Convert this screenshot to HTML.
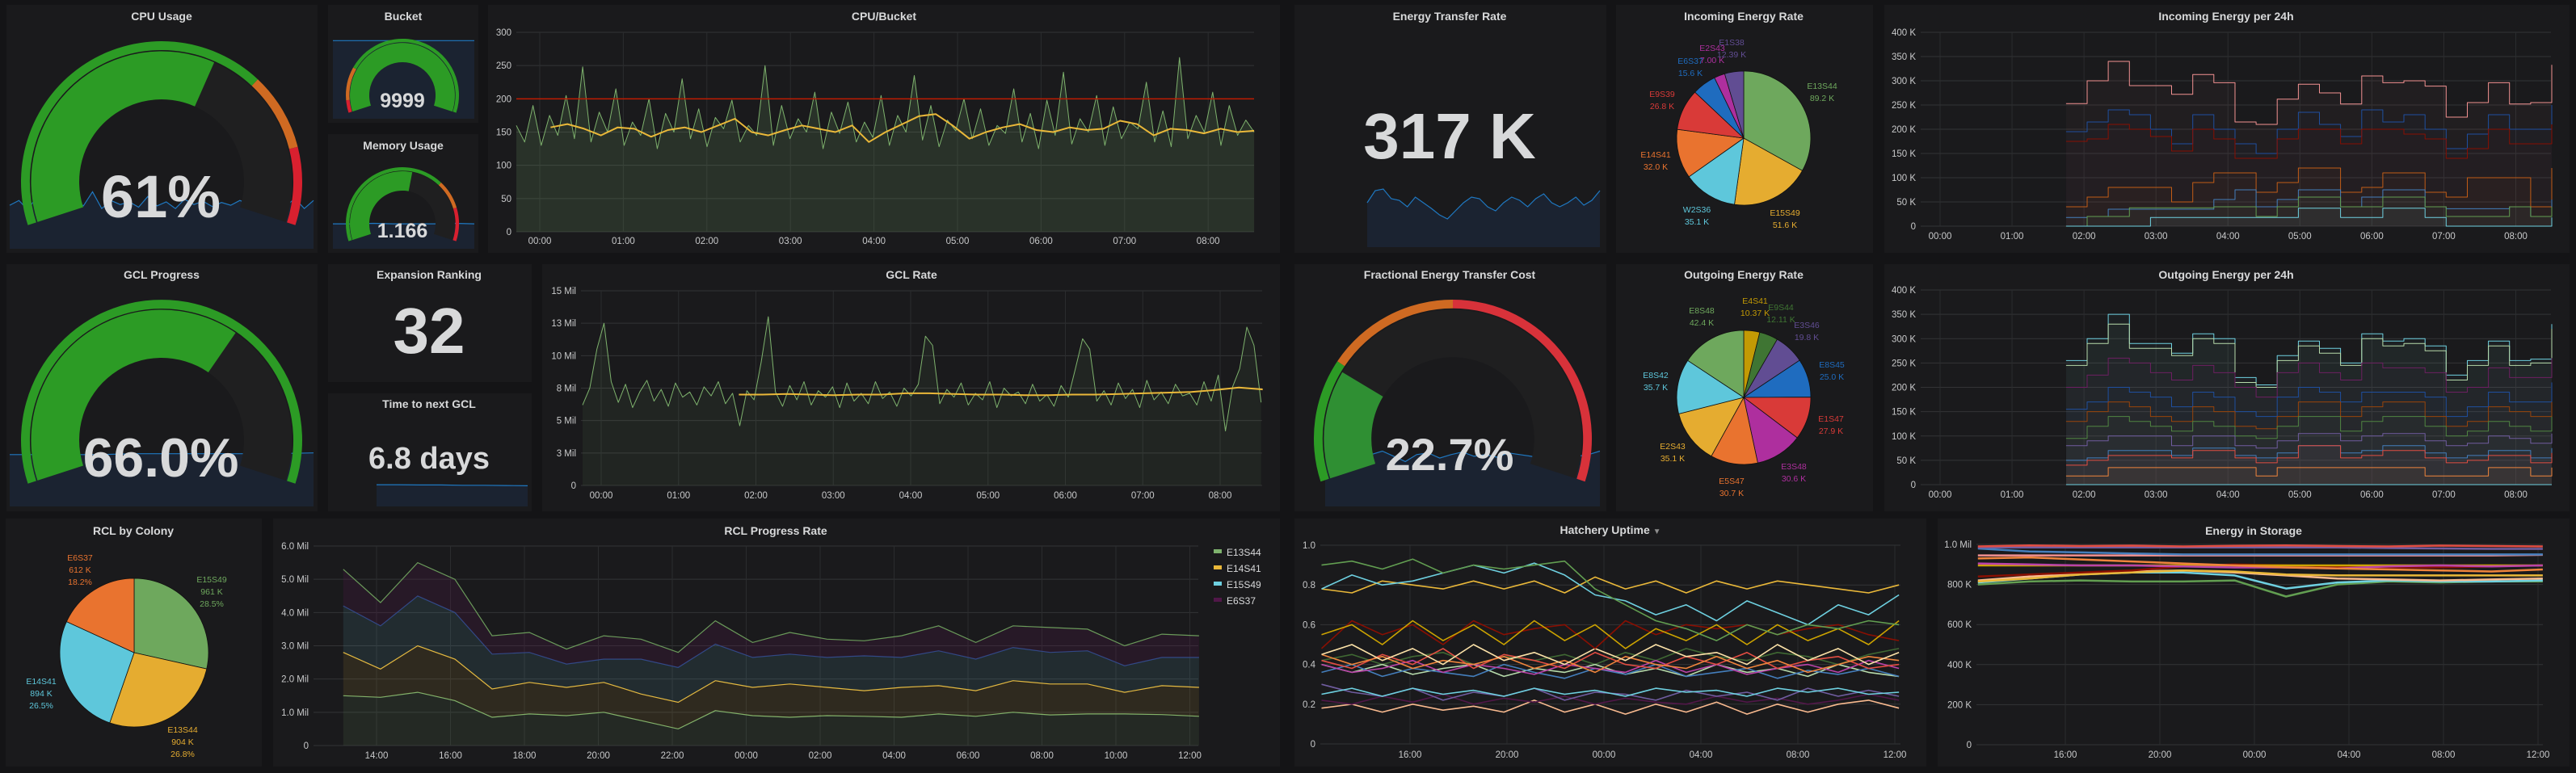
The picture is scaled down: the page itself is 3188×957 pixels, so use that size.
<!DOCTYPE html>
<html><head><meta charset="utf-8"><title>Screeps Dashboard</title>
<style>
html,body{margin:0;padding:0;background:#141416;width:3188px;height:957px;overflow:hidden}
svg{display:block;font-family:"Liberation Sans",sans-serif}
.pt{fill:#d8d9da;font-size:14px;font-weight:bold;text-anchor:middle}
.big{fill:#d8d9da;font-weight:bold;text-anchor:middle}
</style></head>
<body>
<svg id="dash" xmlns="http://www.w3.org/2000/svg" width="3188" height="957" viewBox="0 0 3188 957">
<rect x="0" y="0" width="3188" height="957" fill="#141416"/>
<g fill="#1a1a1c">
<rect x="8" y="6" width="385" height="307"/>
<rect x="406" y="6" width="186" height="146"/>
<rect x="406" y="166" width="186" height="147"/>
<rect x="604" y="6" width="980" height="307"/>
<rect x="1602" y="6" width="386" height="307"/>
<rect x="2000" y="6" width="318" height="307"/>
<rect x="2332" y="6" width="848" height="307"/>
<rect x="8" y="327" width="385" height="306"/>
<rect x="406" y="327" width="252" height="146"/>
<rect x="406" y="487" width="252" height="146"/>
<rect x="671" y="327" width="913" height="306"/>
<rect x="1602" y="327" width="386" height="306"/>
<rect x="2000" y="327" width="318" height="306"/>
<rect x="2332" y="327" width="848" height="306"/>
<rect x="7" y="642" width="317" height="307"/>
<rect x="338" y="642" width="1246" height="307"/>
<rect x="1602" y="642" width="782" height="307"/>
<rect x="2398" y="642" width="782" height="307"/>
</g>
<g id="charts"></g>
<g>
<text class="pt" x="200" y="25">CPU Usage</text>
<text class="pt" x="499" y="25">Bucket</text>
<text class="pt" x="499" y="185">Memory Usage</text>
<text class="pt" x="1094" y="25">CPU/Bucket</text>
<text class="pt" x="1794" y="25">Energy Transfer Rate</text>
<text class="pt" x="2158" y="25">Incoming Energy Rate</text>
<text class="pt" x="2755" y="25">Incoming Energy per 24h</text>
<text class="pt" x="200" y="345">GCL Progress</text>
<text class="pt" x="531" y="345">Expansion Ranking</text>
<text class="pt" x="531" y="505">Time to next GCL</text>
<text class="pt" x="1128" y="345">GCL Rate</text>
<text class="pt" x="1794" y="345">Fractional Energy Transfer Cost</text>
<text class="pt" x="2158" y="345">Outgoing Energy Rate</text>
<text class="pt" x="2755" y="345">Outgoing Energy per 24h</text>
<text class="pt" x="165" y="662">RCL by Colony</text>
<text class="pt" x="960" y="662">RCL Progress Rate</text>
<text class="pt" x="1993" y="661">Hatchery Uptime <tspan fill="#8e8e8e" font-size="10">▼</tspan></text>
<text class="pt" x="2789" y="662">Energy in Storage</text>
</g>
<g>
<text class="big" x="199" y="269" font-size="74">61%</text>
<text class="big" x="498" y="133" font-size="25">9999</text>
<text class="big" x="498" y="294" font-size="25">1.166</text>
<text class="big" x="199" y="590" font-size="68">66.0%</text>
<text class="big" x="531" y="437" font-size="80">32</text>
<text class="big" x="531" y="580" font-size="38">6.8 days</text>
<text class="big" x="1794" y="196" font-size="80">317 K</text>
<text class="big" x="1794" y="582" font-size="56">22.7%</text>
</g>
</svg>
<script>
// ---------- DATA ----------
const cpuRaw = [160,135,190,130,175,145,205,140,248,135,180,150,215,130,165,145,200,125,178,150,230,140,185,128,172,155,198,135,160,145,250,130,190,140,170,150,210,125,180,148,195,135,165,142,205,130,175,150,235,138,190,128,168,152,200,140,185,130,160,148,215,135,178,125,198,145,240,132,170,150,205,130,188,140,165,155,225,135,182,128,262,140,175,150,210,130,190,145,168,150];
const cpuAvg = [157,162,155,145,157,155,143,153,157,150,160,170,150,145,153,160,155,150,160,135,150,162,174,177,160,140,150,157,162,153,150,157,153,155,167,162,145,155,153,148,155,150,152];
const cpuLimit = [200];
const cpuYTicks = [0,50,100,150,200,250,300];
const cpuYLabels = ['0','50','100','150','200','250','300'];
const hourTicks = [0,1,2,3,4,5,6,7,8];
const hourLabels = ['00:00','01:00','02:00','03:00','04:00','05:00','06:00','07:00','08:00'];

const gclRaw = [6.2,7.5,10.5,12.5,8.0,6.4,7.8,6.0,7.2,8.1,6.5,7.4,6.1,7.9,6.8,7.2,6.2,7.6,6.9,8.0,6.3,7.1,4.6,7.3,6.6,9.5,13.0,7.2,6.1,7.7,6.6,8.0,6.2,7.3,6.8,7.6,6.0,7.9,6.5,7.1,6.3,8.0,6.7,7.2,6.1,7.5,6.9,7.8,11.5,10.8,6.3,7.4,6.8,7.9,6.2,7.1,6.6,8.0,6.0,7.5,6.9,7.2,6.3,7.8,6.5,7.0,6.1,7.7,6.8,9.0,11.3,10.5,6.5,7.3,6.2,7.9,6.7,7.4,6.0,8.1,6.6,7.2,6.3,7.8,6.9,7.1,6.2,8.0,6.5,8.5,4.2,7.6,9.0,12.2,10.8,6.4];
const gclAvg = [7.0,7.0,7.05,7.0,6.95,7.0,7.0,7.1,7.1,7.05,7.0,7.0,6.95,6.95,7.0,7.0,7.05,7.1,7.15,7.2,7.35,7.55,7.4];
const gclYTicks = [0,2.5,5,7.5,10,12.5,15];
const gclYLabels = ['0','3 Mil','5 Mil','8 Mil','10 Mil','13 Mil','15 Mil'];

const energyYTicks = [0,50,100,150,200,250,300,350,400];
const energyYLabels = ['0','50 K','100 K','150 K','200 K','250 K','300 K','350 K','400 K'];
const inPink = [253,300,340,290,290,272,313,296,215,210,262,293,275,252,310,296,300,289,225,255,296,252,255,333];
const inBlue = [195,215,240,230,200,170,230,200,170,150,200,235,210,185,240,215,230,200,160,190,230,200,200,250];
const inDarkRed = [175,180,210,200,185,155,200,180,140,140,180,200,200,170,200,200,190,180,140,160,200,170,170,210];
const inOrange = [40,60,80,80,80,50,90,110,110,70,90,120,120,70,80,110,110,70,60,100,100,100,40,120];
const inBlueLow = [18,20,35,35,35,35,35,55,75,40,55,75,75,40,60,75,75,40,36,36,36,40,20,55];
const inGreen = [0,20,20,38,38,38,38,40,40,20,40,60,60,40,40,60,60,40,20,20,20,40,20,40];
const inCyan = [0,0,0,0,18,18,18,18,18,18,18,37,37,18,18,37,37,18,0,0,0,0,0,18];

const outCyan = [255,300,350,290,290,270,310,300,220,205,265,295,280,250,310,295,300,285,225,255,295,255,258,330];
const outPale = [245,290,330,280,280,265,300,290,210,200,255,285,270,245,300,285,290,275,215,245,285,245,250,320];
const outPurple = [200,225,260,250,230,215,245,230,200,180,230,250,230,215,250,240,240,230,190,200,240,220,220,260];
const outDarkBlue = [155,170,200,190,180,160,190,180,150,140,180,200,190,170,190,190,190,180,140,160,190,170,170,210];
const outBrown = [130,150,170,160,140,130,160,150,120,115,140,170,170,140,160,170,170,140,120,130,160,150,140,170];
const outGreen = [95,120,140,130,120,110,130,120,100,95,120,140,140,110,130,140,140,120,100,110,130,120,110,140];
const outPurple2 = [80,90,100,100,100,80,100,100,80,75,90,105,105,90,100,105,105,90,80,85,100,95,85,105];
const outBlue2 = [50,55,70,70,70,60,75,75,60,55,65,80,80,65,70,80,80,65,55,60,70,70,55,75];
const outRed = [40,50,60,60,60,55,70,70,55,45,55,80,80,55,60,70,70,55,45,50,60,60,45,65];
const outOrange = [18,18,35,35,35,35,35,35,35,18,35,35,35,35,35,35,35,18,18,18,35,35,18,35];
const outZero = [0,0,0,0,0,0,0,0,0,0,0,0,0,0,0,0,0,0,0,0,0,0,0,0];

const inPieNames = ['E13S44','E15S49','W2S36','E14S41','E9S39','E6S37','E2S43','E1S38'];
const inPieValues = [89.2,51.6,35.1,32.0,26.8,15.6,7.00,12.39];
const inPieLabels = ['89.2 K','51.6 K','35.1 K','32.0 K','26.8 K','15.6 K','7.00 K','12.39 K'];
const outPieNames = ['E4S41','E9S44','E3S46','E8S45','E1S47','E3S48','E5S47','E2S43','E8S42','E8S48'];
const outPieValues = [10.37,12.11,19.8,25.0,27.9,30.6,30.7,35.1,35.7,42.4];
const outPieLabels = ['10.37 K','12.11 K','19.8 K','25.0 K','27.9 K','30.6 K','30.7 K','35.1 K','35.7 K','42.4 K'];
const rclPieNames = ['E15S49','E13S44','E14S41','E6S37'];
const rclPieValues = [961,904,894,612];
const rclPieLabels = ['961 K','904 K','894 K','612 K'];
const rclPiePct = ['28.5%','26.8%','26.5%','18.2%'];

const rclE13S44 = [1.5,1.45,1.6,1.35,0.85,0.95,0.9,1.0,0.75,0.5,1.05,0.9,0.85,0.9,0.88,0.85,0.95,0.88,1.0,0.92,0.95,0.95,0.93,0.88];
const rclE14S41 = [1.3,0.85,1.4,1.25,0.85,0.95,0.85,0.9,0.8,0.8,0.9,0.85,1.0,0.85,0.77,0.9,0.85,0.77,0.95,0.93,0.9,0.65,0.87,0.87];
const rclE15S49 = [1.4,1.3,1.5,1.4,1.05,0.9,0.7,0.7,1.05,1.05,1.1,0.9,0.9,0.9,1.05,0.9,1.05,0.95,1.0,0.95,1.0,0.8,0.85,0.9];
const rclE6S37 = [1.1,0.7,1.0,1.0,0.55,0.6,0.45,0.7,0.6,0.45,0.7,0.45,0.65,0.55,0.45,0.65,0.75,0.5,0.65,0.75,0.65,0.6,0.7,0.65];
const rclYTicks = [0,1,2,3,4,5,6];
const rclYLabels = ['0','1.0 Mil','2.0 Mil','3.0 Mil','4.0 Mil','5.0 Mil','6.0 Mil'];
const rclXTicks = [14,16,18,20,22,24,26,28,30,32,34,36];
const rclXLabels = ['14:00','16:00','18:00','20:00','22:00','00:00','02:00','04:00','06:00','08:00','10:00','12:00'];

const hatchGreen = [0.9,0.92,0.88,0.93,0.86,0.9,0.88,0.9,0.92,0.78,0.7,0.62,0.58,0.52,0.6,0.55,0.6,0.58,0.62,0.6];
const hatchCyan = [0.78,0.85,0.8,0.82,0.86,0.9,0.86,0.91,0.85,0.75,0.72,0.65,0.7,0.62,0.72,0.66,0.6,0.7,0.65,0.75];
const hatchYellow = [0.78,0.76,0.82,0.8,0.78,0.82,0.78,0.82,0.76,0.84,0.78,0.82,0.76,0.82,0.78,0.82,0.8,0.78,0.76,0.8];
const hatchGold = [0.55,0.6,0.5,0.62,0.52,0.6,0.5,0.62,0.52,0.6,0.48,0.58,0.52,0.6,0.5,0.6,0.52,0.58,0.5,0.62];
const hatchDarkRed = [0.48,0.62,0.55,0.6,0.5,0.62,0.55,0.58,0.6,0.48,0.62,0.55,0.6,0.58,0.6,0.55,0.58,0.6,0.55,0.52];
const hatchPale = [0.45,0.5,0.42,0.48,0.4,0.5,0.42,0.46,0.4,0.48,0.42,0.5,0.44,0.46,0.4,0.5,0.42,0.48,0.4,0.46];
const hatchOrange = [0.45,0.4,0.44,0.38,0.42,0.4,0.44,0.38,0.42,0.36,0.44,0.4,0.38,0.44,0.38,0.42,0.36,0.4,0.44,0.42];
const hatchRed = [0.42,0.38,0.45,0.4,0.48,0.38,0.45,0.42,0.38,0.46,0.4,0.38,0.44,0.4,0.46,0.38,0.42,0.44,0.38,0.4];
const hatchMagenta = [0.4,0.36,0.38,0.42,0.36,0.4,0.38,0.35,0.4,0.38,0.36,0.42,0.36,0.4,0.35,0.38,0.4,0.36,0.42,0.38];
const hatchBlue = [0.36,0.4,0.34,0.38,0.36,0.34,0.4,0.36,0.33,0.38,0.35,0.4,0.34,0.36,0.38,0.33,0.37,0.35,0.38,0.34];
const hatchLightGreen = [0.4,0.36,0.4,0.35,0.38,0.4,0.34,0.38,0.36,0.4,0.35,0.38,0.34,0.4,0.36,0.38,0.34,0.4,0.36,0.34];
const hatchDarkGreen = [0.42,0.45,0.4,0.44,0.46,0.4,0.44,0.42,0.45,0.4,0.46,0.42,0.48,0.44,0.42,0.46,0.44,0.4,0.45,0.48];
const hatchCyanLow = [0.25,0.28,0.24,0.28,0.25,0.27,0.24,0.28,0.25,0.27,0.24,0.28,0.26,0.27,0.24,0.28,0.26,0.28,0.25,0.26];
const hatchPurple = [0.3,0.26,0.24,0.28,0.22,0.26,0.24,0.28,0.22,0.26,0.25,0.22,0.27,0.24,0.26,0.22,0.28,0.24,0.27,0.24];
const hatchDarkPurple = [0.22,0.2,0.24,0.21,0.25,0.2,0.23,0.21,0.24,0.2,0.23,0.21,0.2,0.24,0.21,0.23,0.2,0.22,0.25,0.22];
const hatchPeach = [0.18,0.2,0.16,0.2,0.17,0.19,0.16,0.22,0.16,0.2,0.15,0.2,0.16,0.21,0.15,0.2,0.16,0.2,0.22,0.18];
const hatchYTicks = [0,0.2,0.4,0.6,0.8,1.0];
const hatchYLabels = ['0','0.2','0.4','0.6','0.8','1.0'];
const longXTicks = [16,20,24,28,32,36];
const longXLabels = ['16:00','20:00','00:00','04:00','08:00','12:00'];

const storRed = [990,995,992,994,990,993,995,992,990,994,992,990];
const storPurple = [985,985,985,985,985,985,985,985,982,980,978,978];
const storBlue = [980,965,960,955,950,950,950,950,950,950,950,950];
const storPink = [945,945,945,945,945,945,945,945,945,945,945,948];
const storOrange = [930,935,925,915,905,895,885,880,875,870,865,875];
const storMagenta = [905,900,895,895,890,885,885,880,890,895,890,895];
const storGold = [895,895,895,895,895,895,895,895,895,895,895,895];
const storDarkRed = [840,850,860,870,890,900,895,890,885,885,890,895];
const storYellow = [815,830,850,860,870,865,850,845,845,845,845,845];
const storPeach = [820,840,855,865,870,860,845,830,825,820,825,830];
const storCyan = [810,830,850,860,860,845,780,810,820,815,815,820];
const storGreen = [800,815,820,815,815,820,740,800,815,810,815,815];
const storYTicks = [0,200,400,600,800,1000];
const storYLabels = ['0','200 K','400 K','600 K','800 K','1.0 Mil'];

const cpuSpark = [65,72,58,80,62,70,60,75,64,85,60,72,66,70,62,78,64,70,60,74,66,71,63,69,65,72,67,88,66,70,64,75,60,72];
const bucketSpark = [99,99,99,99,99,99,99,99];
const memSpark = [50,50,51,50,50,50,51,50];
const gclSpark = [60,60,60,61,61,61,61,62];
const timeSpark = [80,80,79,79,78,78,77,76];
const rateSpark = [55,70,72,60,58,50,62,55,48,40,35,45,55,62,60,50,45,55,62,58,50,60,66,55,50,55,62,52,58,70];
const fracSpark = [60,58,62,55,60,64,58,52,60,62,56,60,63,58,60,57,62,60,58,55,60,62,58,60,64];

const cpuGaugeValue = [61];
const bucketGaugeValue = [99.99];
const memGaugeValue = [55];
const gclGaugeValue = [66];
const fracGaugeValue = [22.7];

// ---------- HELPERS ----------
const NS = 'http://www.w3.org/2000/svg';
const root = document.getElementById('charts');
function mk(tag, attrs, parent, name) {
  const e = document.createElementNS(NS, tag);
  for (const k in attrs) e.setAttribute(k, attrs[k]);
  
  
  parent.appendChild(e);
  return e;
}
function group(name) { return mk('g', {}, root, name); }

function makeAxes(g, o) {
  const ax = Object.assign({}, o);
  ax.sx = t => o.px0 + (t - o.t0) * o.ppt;
  ax.sy = v => o.yb - (v - o.vmin) / (o.vmax - o.vmin) * (o.yb - o.yt);
  o.yTicks.forEach((v, i) => {
    const y = ax.sy(v);
    mk('line', {x1: o.gx0, x2: o.gx1, y1: y, y2: y, stroke: '#333436', 'stroke-width': 1}, g, 'y-gridline');
    const t = mk('text', {x: o.gx0 - 6, y: y + 4, fill: '#c8c9ca', 'font-size': 11.5, 'text-anchor': 'end'}, g, 'y-tick-label');
    t.textContent = o.yLabels[i];
  });
  o.xTicks.forEach((h, i) => {
    const x = ax.sx(h);
    mk('line', {x1: x, x2: x, y1: o.yt, y2: o.yb, stroke: '#2b2c2e', 'stroke-width': 1}, g, 'x-gridline');
    const t = mk('text', {x: x, y: o.xly, fill: '#c8c9ca', 'font-size': 11.5, 'text-anchor': 'middle'}, g, 'x-tick-label');
    t.textContent = o.xLabels[i];
  });
  return ax;
}
function pathFor(ax, t0, t1, vals, step) {
  const n = vals.length;
  let d = '';
  vals.forEach((v, i) => {
    const x = ax.sx(t0 + i * (t1 - t0) / (n - 1));
    const y = ax.sy(v);
    if (i === 0) d += 'M' + x.toFixed(1) + ',' + y.toFixed(1);
    else if (step) d += 'H' + x.toFixed(1) + 'V' + y.toFixed(1);
    else d += 'L' + x.toFixed(1) + ',' + y.toFixed(1);
  });
  return d;
}
function series(g, ax, t0, t1, vals, color, w, fillOp, step, name) {
  const d = pathFor(ax, t0, t1, vals, step);
  if (fillOp > 0) {
    const base = ax.sy(ax.vmin).toFixed(1);
    mk('path', {d: d + 'V' + base + 'H' + ax.sx(t0).toFixed(1) + 'Z', fill: color, 'fill-opacity': fillOp, stroke: 'none'}, g, name + '-fill');
  }
  mk('path', {d: d, fill: 'none', stroke: color, 'stroke-width': w, 'stroke-linejoin': 'round'}, g, name + '-line');
}
function spark(g, x0, x1, yTop, yBot, vals, vmin, vmax, name) {
  const n = vals.length;
  let d = '';
  vals.forEach((v, i) => {
    const x = x0 + i * (x1 - x0) / (n - 1);
    const y = yBot - (v - vmin) / (vmax - vmin) * (yBot - yTop);
    d += (i ? 'L' : 'M') + x.toFixed(1) + ',' + y.toFixed(1);
  });
  mk('path', {d: d + 'L' + x1 + ',' + yBot + 'L' + x0 + ',' + yBot + 'Z', fill: '#1b2331', stroke: 'none'}, g, name + '-fill');
  mk('path', {d: d, fill: 'none', stroke: '#1f78c1', 'stroke-width': 1.2}, g, name + '-line');
}
function ang(f) { return (198 - 216 * f) * Math.PI / 180; }
function annulus(cx, cy, r0, r1, f0, f1) {
  const a0 = ang(f0), a1 = ang(f1);
  const large = (a0 - a1) > Math.PI ? 1 : 0;
  const p = (r, a) => (cx + r * Math.cos(a)).toFixed(1) + ',' + (cy - r * Math.sin(a)).toFixed(1);
  return 'M' + p(r1, a0) + 'A' + r1 + ',' + r1 + ' 0 ' + large + ' 1 ' + p(r1, a1) +
         'L' + p(r0, a1) + 'A' + r0 + ',' + r0 + ' 0 ' + large + ' 0 ' + p(r0, a0) + 'Z';
}
function gauge(g, cx, cy, R, value, thresholds, valueColor, name) {
  thresholds.forEach(th => {
    mk('path', {d: annulus(cx, cy, R * 0.937, R, th[0] / 100, th[1] / 100), fill: th[2]}, g, name + '-threshold-band');
  });
  mk('path', {d: annulus(cx, cy, R * 0.586, R * 0.928, 0, 1), fill: '#1f1f20'}, g, name + '-track');
  mk('path', {d: annulus(cx, cy, R * 0.586, R * 0.928, 0, Math.min(value, 99.99) / 100), fill: valueColor}, g, name + '-value-arc');
}
function pie(g, cx, cy, r, vals, colors, name) {
  const tot = vals.reduce((a, b) => a + b, 0);
  let a = -Math.PI / 2;
  vals.forEach((v, i) => {
    const da = v / tot * Math.PI * 2;
    const b = a + da;
    const large = da > Math.PI ? 1 : 0;
    const d = 'M' + cx + ',' + cy + 'L' + (cx + r * Math.cos(a)).toFixed(1) + ',' + (cy + r * Math.sin(a)).toFixed(1) +
      'A' + r + ',' + r + ' 0 ' + large + ' 1 ' + (cx + r * Math.cos(b)).toFixed(1) + ',' + (cy + r * Math.sin(b)).toFixed(1) + 'Z';
    mk('path', {d: d, fill: colors[i], stroke: '#111', 'stroke-width': 0.8}, g, name + '-slice');
    a = b;
  });
}
function pieLabels(g, lines, pos, colors, name) {
  lines.forEach((ls, i) => {
    ls.forEach((s, j) => {
      const t = mk('text', {x: pos[i][0], y: pos[i][1] + j * 15, fill: colors[i], 'font-size': 10.5, 'text-anchor': 'middle'}, g, name + '-label');
      t.textContent = s;
    });
  });
}

// ---------- GAUGES + SPARKLINES ----------
const gCpu = group('cpu-usage-gauge');
spark(gCpu, 12, 388, 225, 308, cpuSpark, 0, 100, 'cpu-sparkline');
gauge(gCpu, 200, 225, 174, cpuGaugeValue[0], [[0,70,'#2c9b25'],[70,85,'#cf6a22'],[85,100,'#d8202f']], '#2c9b25', 'cpu-gauge');

const gBucket = group('bucket-gauge');
spark(gBucket, 412, 587, 20, 147, bucketSpark, 0, 130, 'bucket-sparkline');
gauge(gBucket, 498, 118, 70, bucketGaugeValue[0], [[0,6,'#d8202f'],[6,22,'#cf6a22'],[22,100,'#2c9b25']], '#2c9b25', 'bucket-gauge');

const gMem = group('memory-usage-gauge');
spark(gMem, 412, 587, 240, 308, memSpark, 0, 110, 'memory-sparkline');
gauge(gMem, 498, 277, 70, memGaugeValue[0], [[0,70,'#2c9b25'],[70,84,'#cf6a22'],[84,100,'#d8202f']], '#2c9b25', 'memory-gauge');

const gGcl = group('gcl-progress-gauge');
spark(gGcl, 12, 388, 520, 627, gclSpark, 0, 100, 'gcl-sparkline');
gauge(gGcl, 200, 545, 174, gclGaugeValue[0], [[0,100,'#2c9b25']], '#2c9b25', 'gcl-gauge');

const gTime = group('time-to-next-gcl-sparkline');
spark(gTime, 466, 653, 590, 627, timeSpark, 0, 110, 'time-sparkline');

const gRate = group('energy-transfer-rate-sparkline');
spark(gRate, 1692, 1980, 226, 306, rateSpark, 0, 80, 'rate-sparkline');

const gFrac = group('fractional-cost-gauge');
spark(gFrac, 1640, 1980, 520, 627, fracSpark, 0, 100, 'frac-sparkline');
gauge(gFrac, 1798, 543, 172, fracGaugeValue[0], [[0,24,'#2c9b25'],[24,50,'#cf6a22'],[50,100,'#d8323a']], '#2f8f33', 'frac-gauge');

// ---------- CPU/BUCKET ----------
const gCB = group('cpu-bucket-chart');
const axCB = makeAxes(gCB, {px0: 668, t0: 0, ppt: 103.4, yb: 287, yt: 40, vmin: 0, vmax: 300, gx0: 639, gx1: 1552,
  yTicks: cpuYTicks, yLabels: cpuYLabels, xTicks: hourTicks, xLabels: hourLabels, xly: 302});
series(gCB, axCB, -0.28, 8.55, cpuRaw, '#7eb26d', 1, 0.16, false, 'cpu-series');
mk('line', {x1: 639, x2: 1552, y1: axCB.sy(cpuLimit[0]), y2: axCB.sy(cpuLimit[0]), stroke: '#bf1b00', 'stroke-width': 1.5}, gCB, 'cpu-limit-line');
series(gCB, axCB, 0.13, 8.55, cpuAvg, '#eab839', 2, 0, false, 'cpu-average');

// ---------- GCL RATE ----------
const gGR = group('gcl-rate-chart');
const axGR = makeAxes(gGR, {px0: 744, t0: 0, ppt: 95.75, yb: 601, yt: 360, vmin: 0, vmax: 15, gx0: 719, gx1: 1562,
  yTicks: gclYTicks, yLabels: gclYLabels, xTicks: hourTicks, xLabels: hourLabels, xly: 617});
series(gGR, axGR, -0.24, 8.53, gclRaw, '#7eb26d', 1, 0.08, false, 'gcl-series');
series(gGR, axGR, 1.78, 8.55, gclAvg, '#eab839', 2, 0, false, 'gcl-average');

// ---------- INCOMING / OUTGOING ----------
const gIn = group('incoming-energy-24h-chart');
const axIn = makeAxes(gIn, {px0: 2401, t0: 0, ppt: 89.06, yb: 280, yt: 40, vmin: 0, vmax: 400, gx0: 2377, gx1: 3157,
  yTicks: energyYTicks, yLabels: energyYLabels, xTicks: hourTicks, xLabels: hourLabels, xly: 296});
[[inPink,'#f29191'],[inBlue,'#1f4f9f'],[inDarkRed,'#890f02'],[inOrange,'#c15c17'],[inBlueLow,'#447ebc'],[inGreen,'#629e51'],[inCyan,'#6ed0e0']]
  .forEach(s => series(gIn, axIn, 1.75, 8.5, s[0], s[1], 1, 0.04, true, 'incoming-series'));

const gOut = group('outgoing-energy-24h-chart');
const axOut = makeAxes(gOut, {px0: 2401, t0: 0, ppt: 89.06, yb: 600, yt: 359, vmin: 0, vmax: 400, gx0: 2377, gx1: 3157,
  yTicks: energyYTicks, yLabels: energyYLabels, xTicks: hourTicks, xLabels: hourLabels, xly: 616});
[[outCyan,'#6ed0e0'],[outPale,'#b7dbab'],[outPurple,'#6d1f62'],[outDarkBlue,'#1f4f9f'],[outBrown,'#99440a'],[outGreen,'#508642'],[outPurple2,'#705da0'],[outBlue2,'#447ebc'],[outRed,'#e24d42'],[outOrange,'#ef843c'],[outZero,'#6ed0e0']]
  .forEach(s => series(gOut, axOut, 1.75, 8.5, s[0], s[1], 1, 0.04, true, 'outgoing-series'));

// ---------- PIES ----------
const gInPie = group('incoming-energy-pie');
const inColors = ['#6ea85d','#e5ac30','#5ec7db','#e9732f','#d93a38','#1f6cbf','#ae2f9e','#614d93'];
pie(gInPie, 2158, 171, 83, inPieValues, inColors, 'incoming-pie');
pieLabels(gInPie, inPieNames.map((n, i) => [n, inPieLabels[i]]),
  [[2255,110],[2209,267],[2100,263],[2049,195],[2057,120],[2092,79],[2119,63],[2143,56]], inColors, 'incoming-pie');

const gOutPie = group('outgoing-energy-pie');
const outColors = ['#c39a04','#3f7533','#614d93','#1f6cbf','#d93a38','#ae2f9e','#e9732f','#e5ac30','#5ec7db','#6ea85d'];
pie(gOutPie, 2158, 492, 83, outPieValues, outColors, 'outgoing-pie');
pieLabels(gOutPie, outPieNames.map((n, i) => [n, outPieLabels[i]]),
  [[2172,376],[2204,384],[2236,406],[2267,455],[2266,522],[2220,581],[2143,599],[2070,556],[2049,468],[2106,388]], outColors, 'outgoing-pie');

const gRclPie = group('rcl-by-colony-pie');
const rclColors = ['#6ea85d','#e5ac30','#5ec7db','#e9732f'];
pie(gRclPie, 166, 808, 92, rclPieValues, rclColors, 'rcl-pie');
pieLabels(gRclPie, rclPieNames.map((n, i) => [n, rclPieLabels[i], rclPiePct[i]]),
  [[262,721],[226,907],[51,847],[99,694]], rclColors, 'rcl-pie');

// ---------- RCL PROGRESS RATE (stacked) ----------
const gRcl = group('rcl-progress-rate-chart');
const axRcl = makeAxes(gRcl, {px0: 466, t0: 14, ppt: 45.75, yb: 923, yt: 676, vmin: 0, vmax: 6, gx0: 388, gx1: 1483,
  yTicks: rclYTicks, yLabels: rclYLabels, xTicks: rclXTicks, xLabels: rclXLabels, xly: 939});
(function () {
  const layers = [[rclE13S44,'#7eb26d','#7eb26d'],[rclE14S41,'#eab839','#eab839'],[rclE15S49,'#2f4f8f','#6ed0e0'],[rclE6S37,'#6a9a5a','#511749']];
  let cum = rclE13S44.map(() => 0);
  const t0 = 13.1, t1 = 36.25;
  layers.forEach((L, li) => {
    const lower = cum.slice();
    cum = cum.map((c, i) => c + L[0][i]);
    const up = pathFor(axRcl, t0, t1, cum, false);
    let back = '';
    for (let i = lower.length - 1; i >= 0; i--) {
      back += 'L' + axRcl.sx(t0 + i * (t1 - t0) / (lower.length - 1)).toFixed(1) + ',' + axRcl.sy(lower[i]).toFixed(1);
    }
    mk('path', {d: up + back + 'Z', fill: L[2], 'fill-opacity': li === 3 ? 0.25 : 0.1}, gRcl, 'rcl-stack-fill');
    mk('path', {d: up, fill: 'none', stroke: L[1], 'stroke-width': 1.2}, gRcl, 'rcl-stack-line');
  });
})();
const rclLegendNames = ['E13S44','E14S41','E15S49','E6S37'];
const rclLegendColors = ['#7eb26d','#eab839','#6ed0e0','#511749'];
rclLegendNames.forEach((n, i) => {
  const y = 684 + i * 20;
  mk('rect', {x: 1502, y: y - 4, width: 10, height: 5, fill: rclLegendColors[i]}, gRcl, 'legend-swatch');
  const t = mk('text', {x: 1518, y: y + 4, fill: '#d8d9da', 'font-size': 12}, gRcl, 'legend-entry');
  t.textContent = n;
});

// ---------- HATCHERY UPTIME ----------
const gH = group('hatchery-uptime-chart');
const axH = makeAxes(gH, {px0: 1745, t0: 16, ppt: 30, yb: 921, yt: 675, vmin: 0, vmax: 1, gx0: 1634, gx1: 2352,
  yTicks: hatchYTicks, yLabels: hatchYLabels, xTicks: longXTicks, xLabels: longXLabels, xly: 938});
[[hatchPeach,'#f9ba8f'],[hatchDarkPurple,'#511749'],[hatchPurple,'#705da0'],[hatchCyanLow,'#6ed0e0'],[hatchDarkGreen,'#3f6833'],[hatchLightGreen,'#b7dbab'],[hatchBlue,'#447ebc'],[hatchMagenta,'#ba43a9'],[hatchRed,'#e24d42'],[hatchOrange,'#ef843c'],[hatchPale,'#fce2a8'],[hatchDarkRed,'#890f02'],[hatchGold,'#cca300'],[hatchYellow,'#eab839'],[hatchCyan,'#6ed0e0'],[hatchGreen,'#629e51']]
  .forEach(s => series(gH, axH, 12.35, 36.17, s[0], s[1], 1.6, 0, false, 'hatchery-series'));

// ---------- ENERGY IN STORAGE ----------
const gS = group('energy-in-storage-chart');
const axS = makeAxes(gS, {px0: 2556, t0: 16, ppt: 29.25, yb: 922, yt: 674, vmin: 0, vmax: 1000, gx0: 2446, gx1: 3147,
  yTicks: storYTicks, yLabels: storYLabels, xTicks: longXTicks, xLabels: longXLabels, xly: 938});
[[storGreen,'#629e51'],[storCyan,'#6ed0e0'],[storPeach,'#f9ba8f'],[storYellow,'#eab839'],[storDarkRed,'#890f02'],[storGold,'#cca300'],[storMagenta,'#ba43a9'],[storOrange,'#ef843c'],[storPink,'#f29191'],[storBlue,'#447ebc'],[storPurple,'#705da0'],[storRed,'#e24d42']]
  .forEach(s => series(gS, axS, 12.3, 36.2, s[0], s[1], 2.5, 0, false, 'storage-series'));
</script>
</body></html>
